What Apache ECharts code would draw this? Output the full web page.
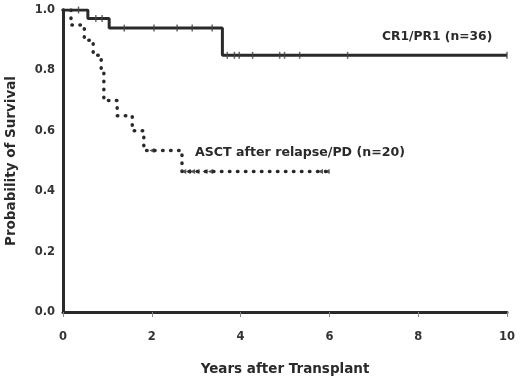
<!DOCTYPE html>
<html>
<head>
<meta charset="utf-8">
<script src="https://cdn.jsdelivr.net/npm/echarts@6/dist/echarts.min.js"></script>
<style>
  html, body { margin: 0; padding: 0; background: #fff; }
  #main { width: 520px; height: 382px; }
</style>
</head>
<body>
<div id="main"></div>
<script>
// CR1/PR1 (n=36): step times (years) and survival after each step
const crTimes = [0, 0.56, 1.04, 3.59, 10];
const crSurv = [1.0, 0.972, 0.94, 0.85, 0.85];
const crCensor = [0.35, 0.74, 0.88, 1.38, 2.05, 2.57, 2.91, 3.36, 3.70, 3.86, 3.97, 4.27, 4.88, 4.99, 5.33, 6.41, 10.0];

// ASCT after relapse/PD (n=20)
const asTimes = [0, 0.18, 0.48, 0.68, 0.86, 0.92, 1.22, 1.56, 1.82, 2.68, 6.0];
const asSurv = [1.0, 0.95, 0.90, 0.85, 0.80, 0.70, 0.65, 0.60, 0.535, 0.465, 0.465];
const asCensor = [2.0, 2.72, 2.82, 2.92, 3.02, 3.2, 3.32, 5.8, 5.95];

const xTicks = [0, 2, 4, 6, 8, 10];

// значение кривой в момент t (для меток цензурирования)
function survAt(times, surv, t) {
    let v = surv[0];
    times.forEach((tt, i) => { if (tt <= t) v = surv[i]; });
    return v;
}

const ink = '#2a2a2a';
const font = 'DejaVu Sans, sans-serif';

let chart = echarts.init(document.getElementById('main'));

const option = {
    animation: false,
    grid: { left: 63, right: 13, top: 10, bottom: 70, containLabel: false, outerBoundsMode: 'none' },
    xAxis: {
        type: 'value',
        min: 0, max: 10, interval: 2,
        name: 'Years after Transplant',
        nameLocation: 'middle',
        nameGap: 50,
        nameTextStyle: { fontFamily: font, fontWeight: 'bold', fontSize: 13.5, color: ink },
        axisLine: { show: true, lineStyle: { color: ink, width: 3 } },
        axisTick: { show: true, length: 5, lineStyle: { color: '#888', width: 1 } },
        axisLabel: {
            margin: 19, fontFamily: font, fontWeight: 'bold', fontSize: 11.5, color: '#333',
            formatter: v => xTicks.includes(v) ? String(v) : ''
        },
        splitLine: { show: false }
    },
    yAxis: {
        type: 'value',
        min: 0, max: 1, interval: 0.2,
        name: 'Probability of Survival',
        nameLocation: 'middle',
        nameGap: 45,
        nameTextStyle: { fontFamily: font, fontWeight: 'bold', fontSize: 13.5, color: ink },
        axisLine: { show: true, lineStyle: { color: ink, width: 3 } },
        axisTick: { show: false },
        axisLabel: {
            margin: 8, fontFamily: font, fontWeight: 'bold', fontSize: 11.5, color: '#333',
            formatter: v => v.toFixed(1)
        },
        splitLine: { show: false }
    },
    graphic: [
        {
            type: 'text', left: 382, top: 31,
            style: { text: 'CR1/PR1 (n=36)', font: 'bold 12.3px ' + font, fill: ink }
        },
        {
            type: 'text', left: 195, top: 146,
            style: { text: 'ASCT after relapse/PD (n=20)', font: 'bold 12.6px ' + font, fill: ink }
        }
    ],
    series: [
        {
            name: 'ASCT after relapse/PD',
            type: 'line',
            step: 'end',
            symbol: 'none',
            lineStyle: { color: ink, width: 3.5, type: [0.5, 7.5], cap: 'round' },
            data: asTimes.map((t, i) => [t, asSurv[i]]),
            z: 2
        },
        {
            name: 'ASCT censored',
            type: 'scatter',
            symbol: 'triangle',
            symbolRotate: 90,
            symbolSize: 5,
            itemStyle: { color: ink },
            data: asCensor.map(t => [t, survAt(asTimes, asSurv, t)]),
            z: 3
        },
        {
            name: 'CR1/PR1',
            type: 'line',
            step: 'end',
            symbol: 'none',
            lineStyle: { color: ink, width: 3 },
            data: crTimes.map((t, i) => [t, crSurv[i]]),
            z: 4
        },
        {
            name: 'CR1/PR1 censored',
            type: 'scatter',
            symbol: 'rect',
            symbolSize: [1.5, 7],
            itemStyle: { color: '#444' },
            data: crCensor.map(t => [t, survAt(crTimes, crSurv, t)]),
            z: 5
        }
    ]
};

chart.setOption(option);
</script>
</body>
</html>
